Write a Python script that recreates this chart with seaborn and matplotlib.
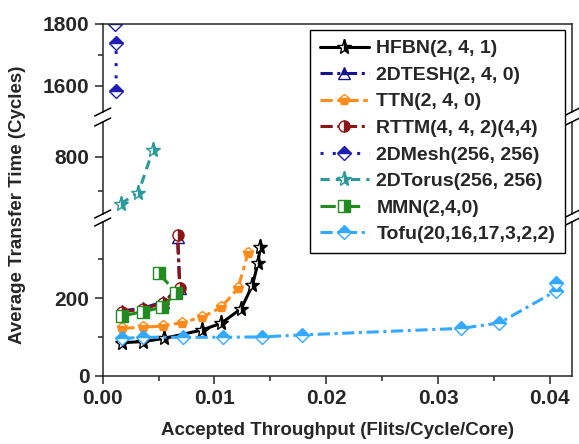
import matplotlib
matplotlib.use("Agg")
import matplotlib.pyplot as plt
import matplotlib.ticker as mticker
from matplotlib.lines import Line2D
import seaborn as sns

# accepted throughput (flits/cycle/core) vs average transfer time (cycles)
hfbn_x = [0.00175, 0.0036, 0.0055, 0.0089, 0.0106, 0.0124, 0.0134, 0.0139, 0.0141]
hfbn_y = [85, 88, 96, 118, 135, 173, 233, 291, 332]

tesh_x = [0.00175, 0.0036, 0.0054, 0.0069, 0.0067]
tesh_y = [167, 174, 190, 227, 357]

ttn_x = [0.00175, 0.0036, 0.0054, 0.0071, 0.0089, 0.0106, 0.0121, 0.0130]
ttn_y = [122, 125, 128, 137, 151, 176, 225, 315]

rttm_x = [0.00175, 0.0036, 0.0054, 0.0069, 0.0067]
rttm_y = [165, 171, 188, 225, 362]

mesh_x = [0.0012, 0.0012, 0.0011]
mesh_y = [1585, 1738, 1800]

torus_x = [0.0016, 0.0032, 0.0045]
torus_y = [661, 694, 820]

mmn_x = [0.00175, 0.0036, 0.0053, 0.0066, 0.0050]
mmn_y = [154, 165, 176, 214, 264]

tofu_x = [0.00175, 0.0036, 0.0072, 0.0108, 0.0143, 0.0178, 0.0321, 0.0355, 0.0406, 0.0406]
tofu_y = [96, 99, 99, 99, 100, 105, 122, 136, 219, 239]

labels = ["HFBN(2, 4, 1)", "2DTESH(2, 4, 0)", "TTN(2, 4, 0)", "RTTM(4, 4, 2)(4,4)",
          "2DMesh(256, 256)", "2DTorus(256, 256)", "MMN(2,4,0)", "Tofu(20,16,17,3,2,2)"]
xs = [hfbn_x, tesh_x, ttn_x, rttm_x, mesh_x, torus_x, mmn_x, tofu_x]
ys = [hfbn_y, tesh_y, ttn_y, rttm_y, mesh_y, torus_y, mmn_y, tofu_y]

colors = ["black", "#14148c", "#ff8c1a", "#8c1414", "#1e1eb4", "#2a9a9a", "#228b22", "#33aaff"]
markers = ["*", "^", "p", "o", "D", "*", "s", "D"]
fills = ["right", "top", "bottom", "right", "top", "right", "right", "top"]
styles = ["-", (0, (4, 1.5, 1, 1.5)), (0, (4, 1.5, 1.5, 1.5)), (0, (4, 1.5, 1, 1.5)),
          (0, (1, 3)), (0, (3, 2)), (0, (5, 3)), (0, (4, 1.5, 1, 1.5))]

sns.set_style("ticks")
plt.rcParams["font.family"] = ["Liberation Sans", "DejaVu Sans"]
plt.rcParams["font.weight"] = "bold"

W, H = 579, 444
fig = plt.figure(figsize=(W / 100, H / 100), dpi=100)


def px_rect(x0, x1, y0, y1):
    return [x0 / W, 1 - y1 / H, (x1 - x0) / W, (y1 - y0) / H]


xl, xr = 102.7, 571.7
ax_top = fig.add_axes(px_rect(xl, xr, 24, 112))
ax_mid = fig.add_axes(px_rect(xl, xr, 122, 214))
ax_bot = fig.add_axes(px_rect(xl, xr, 222, 375.7))
axes = [ax_top, ax_mid, ax_bot]

for ax in axes:
    for i in range(len(labels)):
        ms = 11 if markers[i] == "*" else 8
        if markers[i] == "D":
            ms = 7
        sns.lineplot(x=xs[i], y=ys[i], ax=ax, sort=False, estimator=None, legend=False,
                     color=colors[i], lw=2.2, linestyle=styles[i], marker=markers[i],
                     ms=ms, fillstyle=fills[i], markerfacecolor=colors[i],
                     markerfacecoloralt="white", markeredgecolor=colors[i],
                     markeredgewidth=1.0, label=labels[i])
    ax.set_xlim(0, 0.04197)
    ax.set_xlabel("")
    ax.set_ylabel("")
    for s in ax.spines.values():
        s.set_linewidth(1.1)
    ax.tick_params(axis="y", which="major", direction="out", length=6, width=1.1, labelsize=15)
    ax.tick_params(axis="y", which="minor", direction="out", length=3.5, width=1.1)

ax_top.set_ylim(1516, 1800)
ax_top.yaxis.set_major_locator(mticker.MultipleLocator(200))
ax_top.yaxis.set_minor_locator(mticker.MultipleLocator(100))
ax_mid.set_ylim(631, 902)
ax_mid.yaxis.set_major_locator(mticker.FixedLocator([800]))
ax_mid.yaxis.set_minor_locator(mticker.FixedLocator([700]))
ax_bot.set_ylim(0, 396)
ax_bot.yaxis.set_major_locator(mticker.FixedLocator([0, 200]))
ax_bot.yaxis.set_minor_locator(mticker.FixedLocator([100, 300]))

ax_top.spines["bottom"].set_visible(False)
ax_mid.spines["top"].set_visible(False)
ax_mid.spines["bottom"].set_visible(False)
ax_bot.spines["top"].set_visible(False)
for ax in [ax_top, ax_mid]:
    ax.tick_params(axis="x", which="both", bottom=False, labelbottom=False)

ax_bot.xaxis.set_major_locator(mticker.MultipleLocator(0.01))
ax_bot.xaxis.set_minor_locator(mticker.MultipleLocator(0.005))
ax_bot.xaxis.set_major_formatter(mticker.FormatStrFormatter("%.2f"))
ax_bot.tick_params(axis="x", which="major", direction="out", length=6, width=1.1, labelsize=15)
ax_bot.tick_params(axis="x", which="minor", direction="out", length=3.5, width=1.1)
ax_bot.set_xlabel("Accepted Throughput (Flits/Cycle/Core)", fontsize=13.5,
                  fontweight="bold", labelpad=10)
fig.text(18 / W, 1 - 205 / H, "Average Transfer Time (Cycles)", rotation=90,
         ha="center", va="center", fontsize=13.5, fontweight="bold")

# axis break marks
for xs_px in (xl, xr):
    for yc in (112, 122, 214, 222):
        fig.add_artist(Line2D([(xs_px - 8) / W, (xs_px + 8) / W],
                              [1 - (yc + 4) / H, 1 - (yc - 4) / H],
                              transform=fig.transFigure, color="black", lw=1.1))

handles, labs = ax_bot.get_legend_handles_labels()
fig.legend(handles, labs, loc="upper right", bbox_to_anchor=(565 / W, 1 - 30 / H),
           frameon=True, fancybox=False, edgecolor="black", framealpha=1,
           prop={"size": 14, "weight": "bold"}, handlelength=2.5, labelspacing=0.46,
           borderpad=0.5, handletextpad=0.4, borderaxespad=0)

fig.savefig("out.png", dpi=100)
